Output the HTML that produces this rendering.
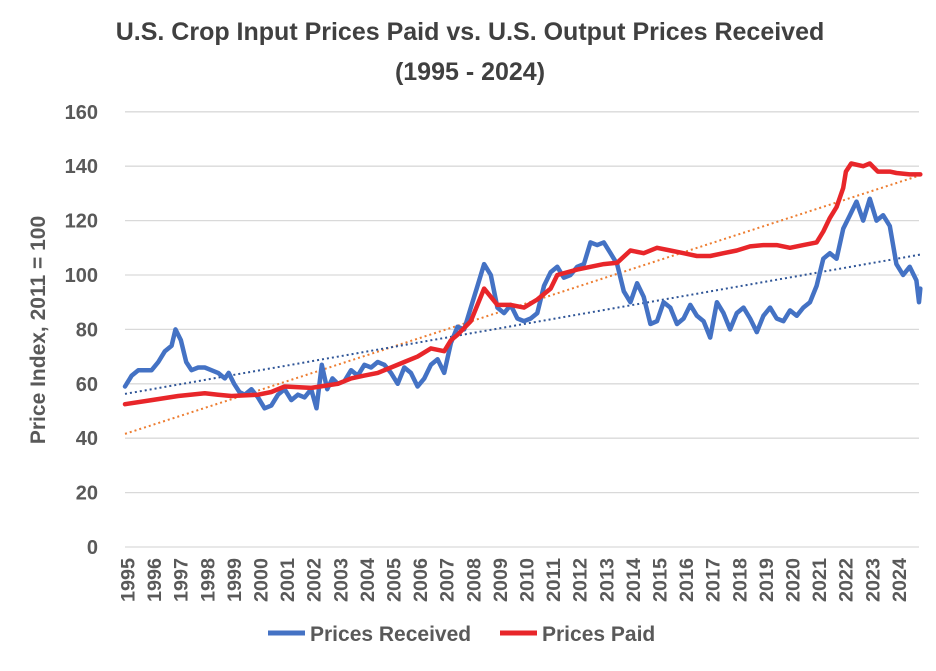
<!DOCTYPE html>
<html><head><meta charset="utf-8"><style>
body{margin:0;background:#fff;}
svg text{font-family:"Liberation Sans",sans-serif;font-weight:bold;}
</style></head><body>
<svg id="chart" width="936" height="666" viewBox="0 0 936 666">
<text x="470" y="40" text-anchor="middle" font-size="25" fill="#404040">U.S. Crop Input Prices Paid vs. U.S. Output Prices Received</text>
<text x="470" y="80" text-anchor="middle" font-size="25" fill="#404040">(1995 - 2024)</text>
<text transform="translate(45,330) rotate(-90)" text-anchor="middle" font-size="21" fill="#595959">Price Index, 2011 = 100</text>
<g id="grid"></g><g id="yt"></g><g id="xt"></g><g id="series"></g>
<g>
<line x1="268" y1="633" x2="305" y2="633" stroke="#4472C4" stroke-width="5"/>
<text x="310" y="641" font-size="21" fill="#595959">Prices Received</text>
<line x1="500" y1="633" x2="537" y2="633" stroke="#E8262A" stroke-width="5"/>
<text x="542" y="641" font-size="21" fill="#595959">Prices Paid</text>
</g>
</svg>
<script>
const yTicks=[0,20,40,60,80,100,120,140,160];
const xYears=[];for(let y=1995;y<=2024;y++)xYears.push(y);
const recT=[1995,1995.25,1995.5,1995.75,1996,1996.25,1996.5,1996.75,1996.9,1997.1,1997.3,1997.5,1997.75,1998,1998.25,1998.5,1998.75,1998.9,1999.1,1999.3,1999.5,1999.75,2000,2000.25,2000.5,2000.75,2001,2001.25,2001.5,2001.75,2002,2002.2,2002.4,2002.6,2002.8,2003,2003.25,2003.5,2003.75,2004,2004.25,2004.5,2004.75,2005,2005.25,2005.5,2005.75,2006,2006.25,2006.5,2006.75,2007,2007.25,2007.5,2007.75,2008,2008.25,2008.5,2008.75,2009,2009.25,2009.5,2009.75,2010,2010.25,2010.5,2010.75,2011,2011.25,2011.5,2011.75,2012,2012.25,2012.5,2012.75,2013,2013.25,2013.5,2013.75,2014,2014.25,2014.5,2014.75,2015,2015.25,2015.5,2015.75,2016,2016.25,2016.5,2016.75,2017,2017.25,2017.5,2017.75,2018,2018.25,2018.5,2018.75,2019,2019.25,2019.5,2019.75,2020,2020.25,2020.5,2020.75,2021,2021.25,2021.5,2021.75,2022,2022.25,2022.5,2022.75,2023,2023.25,2023.5,2023.75,2024,2024.25,2024.5,2024.75,2024.85,2024.9];
const recV=[59,63,65,65,65,68,72,74,80,76,68,65,66,66,65,64,62,64,60,57,56,58,55,51,52,56,58,54,56,55,58,51,67,58,62,60,61,65,63,67,66,68,67,64,60,66,64,59,62,67,69,64,75,81,80,88,96,104,100,88,86,89,84,83,84,86,96,101,103,99,100,103,104,112,111,112,108,104,94,90,97,92,82,83,90,88,82,84,89,85,83,77,90,86,80,86,88,84,79,85,88,84,83,87,85,88,90,96,106,108,106,117,122,127,120,128,120,122,118,104,100,103,98,90,95];
const paidT=[1995,1996,1997,1998,1998.5,1999,2000,2000.5,2001,2002,2003,2003.5,2004,2004.5,2005,2005.5,2006,2006.5,2007,2007.25,2007.5,2008,2008.5,2008.75,2009,2009.5,2010,2010.5,2011,2011.25,2012,2012.5,2013,2013.5,2014,2014.5,2015,2015.5,2016,2016.5,2017,2017.5,2018,2018.5,2019,2019.5,2020,2020.5,2021,2021.25,2021.5,2021.75,2022,2022.1,2022.3,2022.75,2023,2023.3,2023.75,2024,2024.5,2024.9];
const paidV=[52.5,54,55.5,56.5,56,55.5,56,57,59,58.5,60,62,63,64,66,68,70,73,72,76,78,83,95,92,89,89,88,91,95,100,102,103,104,104.5,109,108,110,109,108,107,107,108,109,110.5,111,111,110,111,112,116,121,125,132,138,141,140,141,138,138,137.5,137,137];
const X0=125,PX=26.6,Y0=547,PY=2.72;
const sx=t=>X0+(t-1995)*PX, sy=v=>Y0-v*PY;
const NS="http://www.w3.org/2000/svg";
function mk(tag,attrs,parent,txt){const e=document.createElementNS(NS,tag);for(const k in attrs)e.setAttribute(k,attrs[k]);if(txt!==undefined)e.textContent=txt;parent.appendChild(e);return e;}
const grid=document.getElementById('grid'),yt=document.getElementById('yt'),xt=document.getElementById('xt'),ser=document.getElementById('series');
yTicks.forEach(v=>{
 const l=mk('line',{x1:X0,x2:919,y1:sy(v),y2:sy(v),stroke:'#d9d9d9','stroke-width':1.3},grid);
 
 
 const t=mk('text',{x:98,y:sy(v)+7,'text-anchor':'end','font-size':20,fill:'#595959'},yt,v);
 
 
});
xYears.forEach(y=>{
 const t=mk('text',{transform:`translate(${sx(y)+9.5},558) rotate(-90)`,'text-anchor':'end','font-size':19,textLength:44,lengthAdjust:'spacingAndGlyphs',fill:'#595959'},xt,y);
 
 
});
function fit(T,V){const n=T.length;let mt=0,mv=0;for(let i=0;i<n;i++){mt+=T[i];mv+=V[i];}mt/=n;mv/=n;let a=0,b=0;for(let i=0;i<n;i++){a+=(T[i]-mt)*(V[i]-mv);b+=(T[i]-mt)**2;}const s=a/b;return t=>mv+s*(t-mt);}
function trend(T,V,color,name){const f=fit(T,V);const l=mk('line',{x1:sx(1995),y1:sy(f(1995)),x2:sx(2024.9),y2:sy(f(2024.9)),stroke:color,'stroke-width':2,'stroke-dasharray':'2 3'},ser);
 
 }
function line(T,V,color,name){const d=T.map((t,i)=>(i?'L':'M')+sx(t).toFixed(1)+' '+sy(V[i]).toFixed(1)).join(' ');
 const p=mk('path',{d:d,fill:'none',stroke:color,'stroke-width':4.5,'stroke-linejoin':'round','stroke-linecap':'round'},ser);
 
 }
trend(paidT,paidV,'#ED7D31','paid-trendline');
trend(recT,recV,'#2F5597','received-trendline');
line(recT,recV,'#4472C4','received-line');
line(paidT,paidV,'#E8262A','paid-line');
</script>
</body></html>
